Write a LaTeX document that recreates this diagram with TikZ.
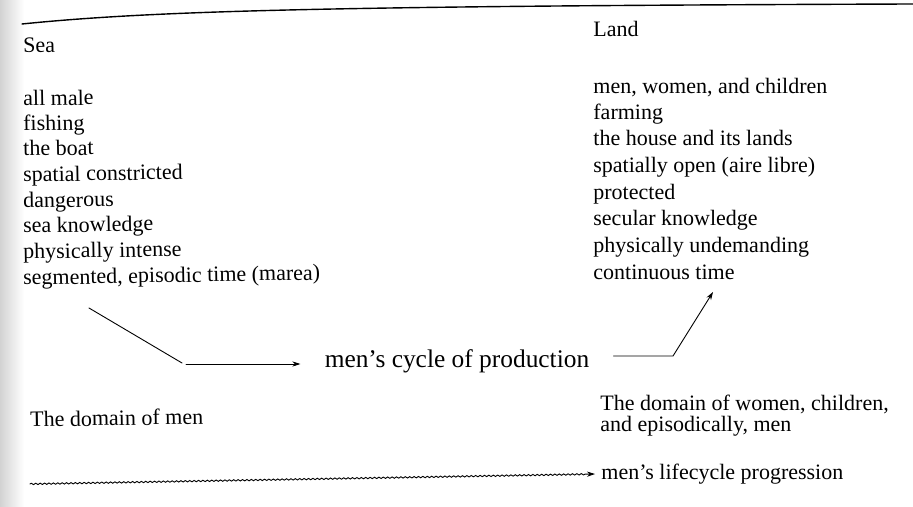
\documentclass[tikz,border=0pt]{standalone}
\usepackage{fontspec}
\setmainfont{Liberation Serif}
\usetikzlibrary{arrows.meta,positioning,calc,decorations.pathmorphing}

\begin{document}
\begin{tikzpicture}
  [x=0.5pt,y=-0.5pt,line cap=round,>={Stealth[length=4pt,width=2.6pt]},
  % Styles
  item/.style={anchor=base west,inner sep=0pt,font=\fontsize{11}{13}\selectfont},
  sea item/.style={item,rotate=1},
  cycle text/.style={anchor=base,inner xsep=12pt,inner ysep=0pt,font=\fontsize{12.7}{15}\selectfont},
  rule line/.style={line width=0.7pt},
  link/.style={line width=0.45pt},
  wavy link/.style={link,decorate,decoration={snake,amplitude=0.35pt,segment length=2.2pt,post length=5pt}}]
  \useasboundingbox (0,0) rectangle (913,507);
  % Scan shadow at the left edge
  \shade[left color=gray!35,right color=white] (0,0) rectangle (24,507);
  % The rule on top
  \draw[rule line] (22,24) .. controls (150,11) and (320,6) .. (913,4);
  % Sea column
  \node[sea item] (sea) at (23,53) {Sea};
  \foreach \y/\txt [count=\n] in {106/all male, 131/fishing, 156/the boat,
      182/spatial constricted, 208/dangerous, 233/sea knowledge,
      259/physically intense, 285/{segmented, episodic time (marea)}}
    \node[sea item] (sea\n) at (23,\y) {\txt};
  % Land column
  \node[item] (land) at (593,37) {Land};
  \foreach \y/\txt [count=\n] in {94/{men, women, and children}, 120/farming,
      146/the house and its lands, 173/spatially open (aire libre),
      200/protected, 226/secular knowledge, 253/physically undemanding,
      279/continuous time}
    \node[item] (land\n) at (593,\y) {\txt};
  % Cycle of production
  \node[cycle text] (cycle) at (457,367) {men's cycle of production};
  \coordinate (sea start) at (89,308);
  \coordinate (sea bend) at (182,363);
  \coordinate (land bend) at (673,356);
  \coordinate (land tip) at (713,292);
  \draw[link] (sea start) -- (sea bend);
  \draw[link,->] ($(sea bend)+(4,1)$) -- (cycle.west |- 0,364);
  \draw[link,->] (cycle.east |- land bend) -- (land bend) -- (land tip);
  % Domains
  \node[sea item] (men domain) at (30,427) {The domain of men};
  \node[item] (women domain) at (600,410) {The domain of women, children,};
  \node[item] (women domain2) at (600,431) {and episodically, men};
  % Lifecycle
  \node[item,anchor=west,inner sep=3pt] (lifecycle) at (595,474) {men's lifecycle progression};
  \coordinate (life start) at (30,484);
  \draw[wavy link,->] (life start) -- (lifecycle.west);
\end{tikzpicture}
\end{document}
